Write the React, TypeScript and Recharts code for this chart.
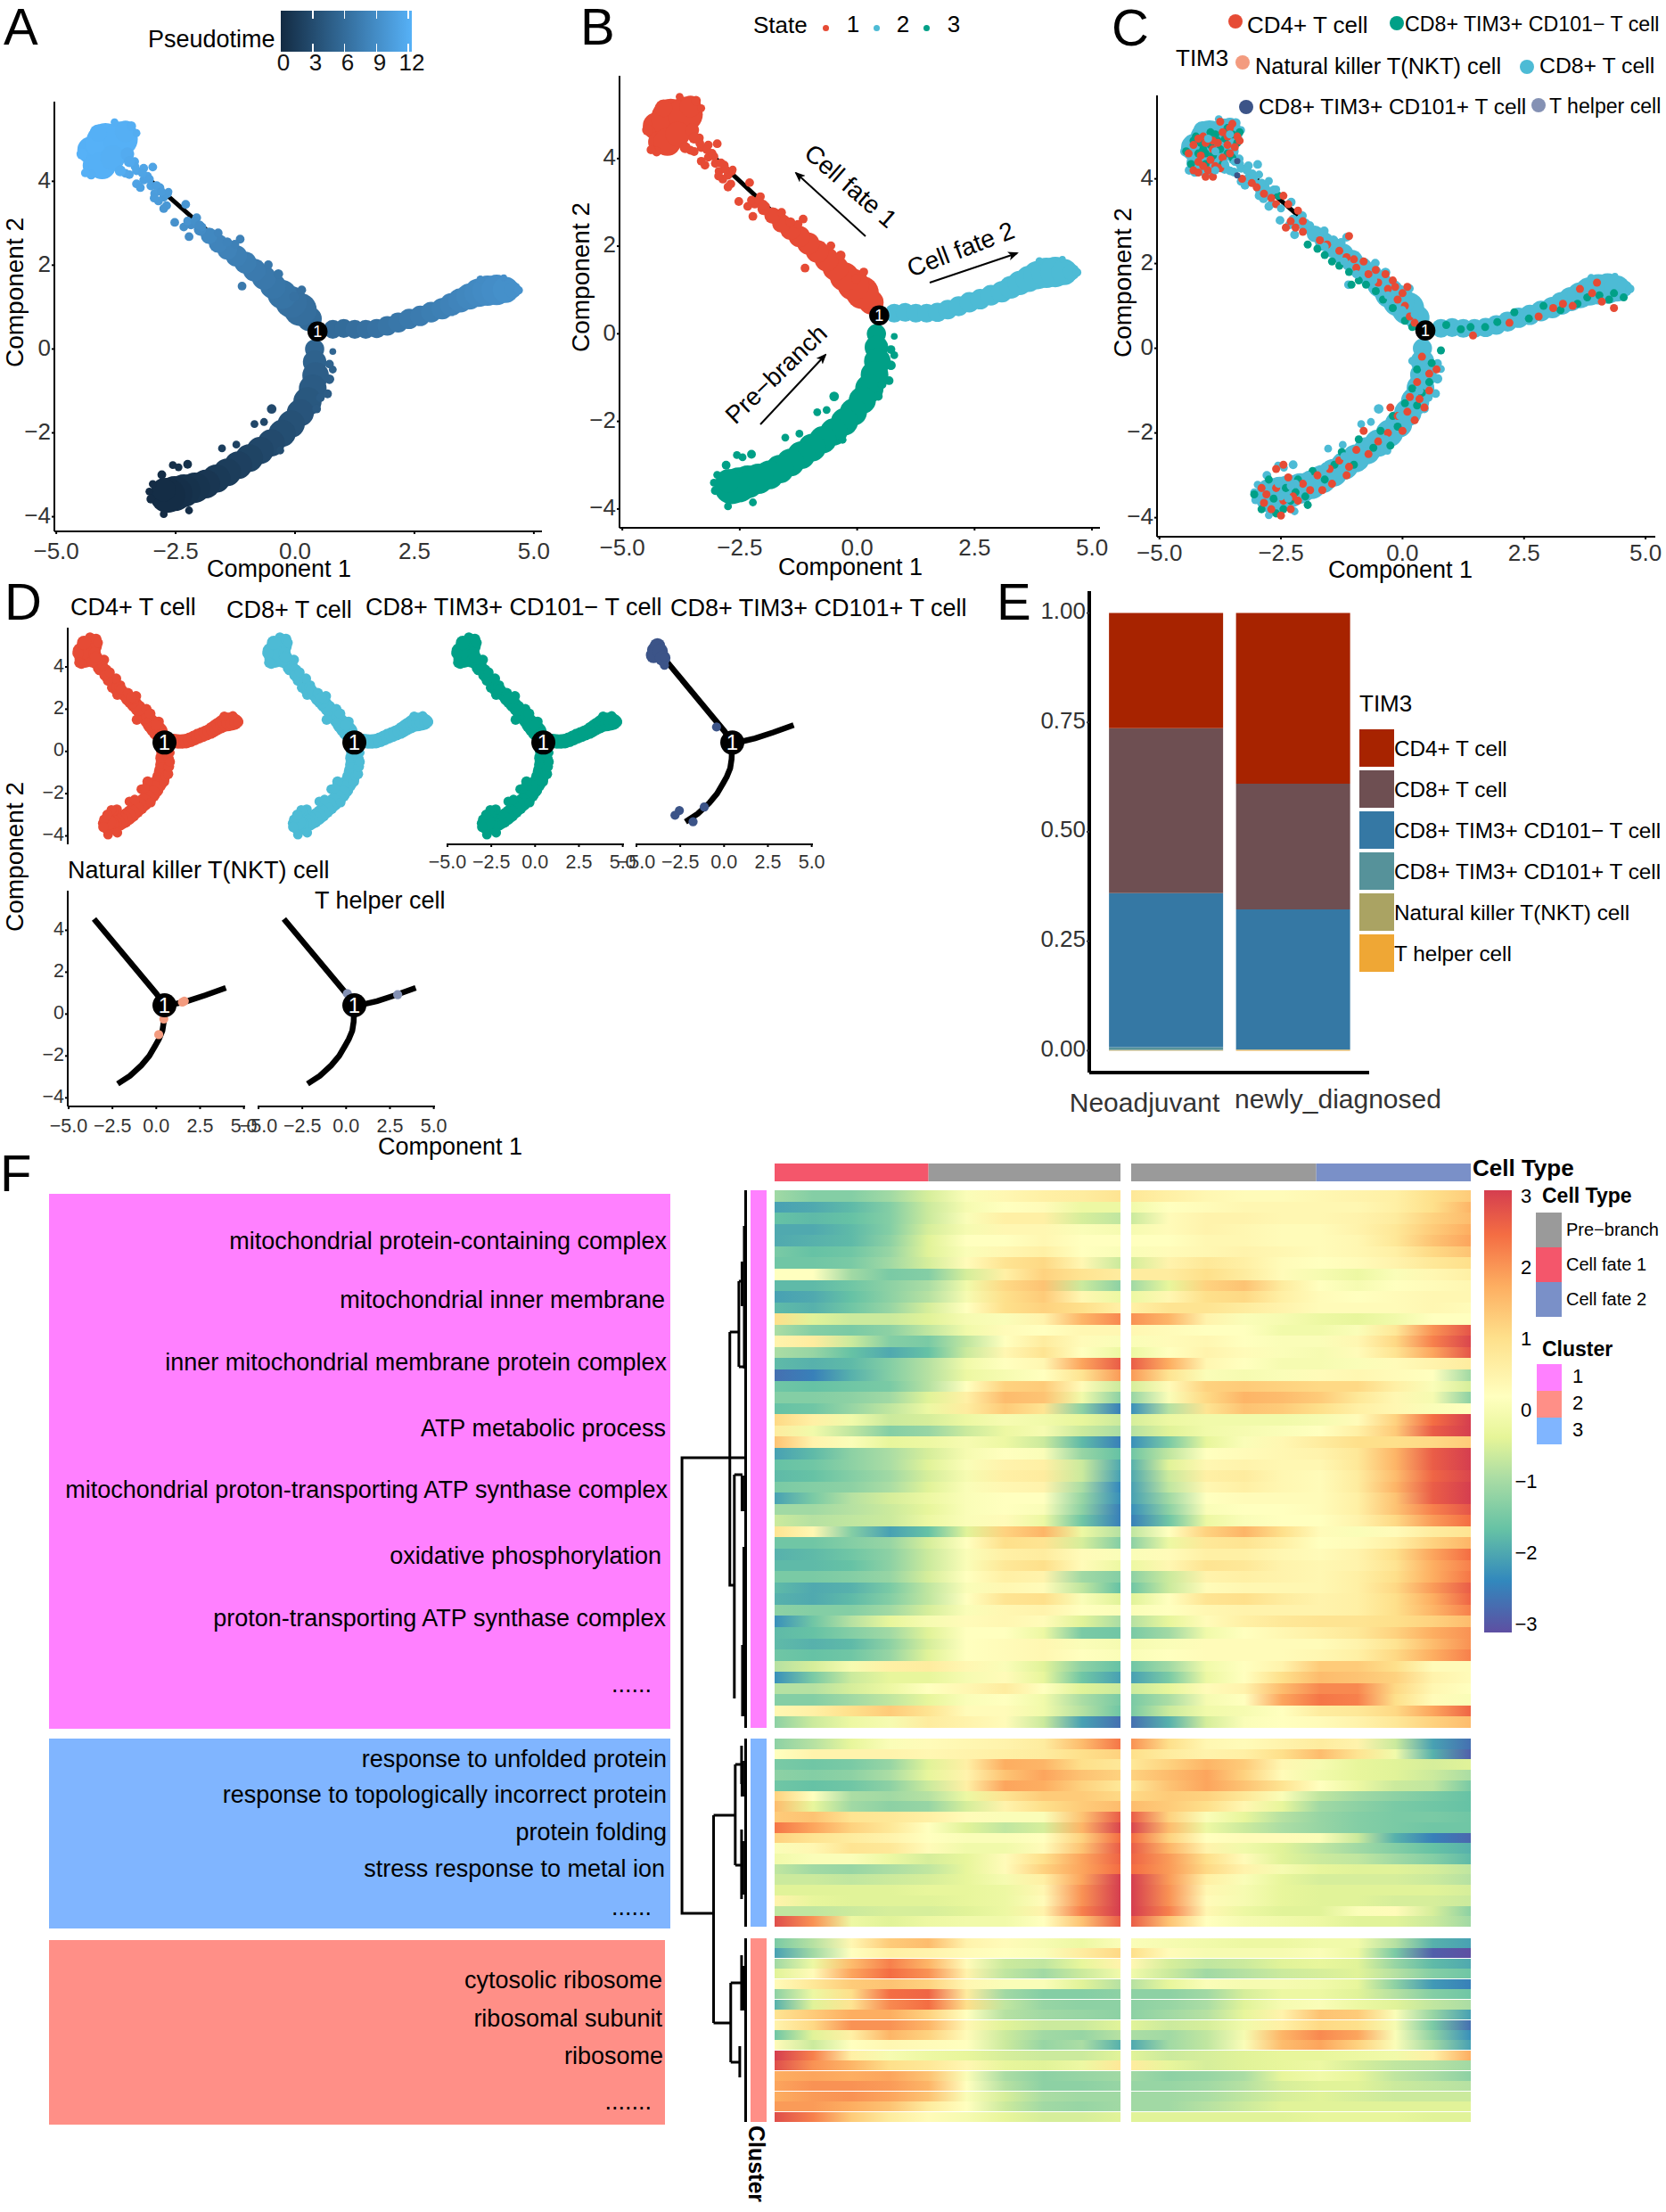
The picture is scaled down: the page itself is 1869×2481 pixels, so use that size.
import React from "react";
import {
  Bar,
  BarChart,
  Cell,
  Scatter,
  ScatterChart,
  XAxis,
  YAxis,
  ZAxis,
} from "recharts";

const FONT = "'Liberation Sans', Arial, sans-serif";

// trajectory cells: [component 1, component 2, local density, pseudotime]
const preBranchCells = [
  [0.41, 0, 24, 5.2], [0.41, -0.31, 36, 4.9], [0.43, -0.63, 46, 4.6], [0.37, -0.94, 50, 4.3],
  [0.26, -1.25, 52, 4], [0.11, -1.52, 48, 3.7], [-0.08, -1.79, 48, 3.4], [-0.27, -2.01, 48, 3.1],
  [-0.5, -2.24, 48, 2.8], [-0.73, -2.42, 48, 2.5], [-0.96, -2.6, 50, 2.2], [-1.19, -2.77, 50, 1.9],
  [-1.42, -2.94, 50, 1.6], [-1.65, -3.09, 52, 1.3], [-1.87, -3.22, 54, 1], [-2.1, -3.31, 60, 0.8],
  [-2.33, -3.38, 70, 0.6], [-2.52, -3.45, 80, 0.4], [-2.67, -3.49, 80, 0.2], [-2.75, -3.36, 36, 0.2],
  [-0.49, -1.43, 6, 2.7], [-0.85, -1.79, 4, 2.4], [-0.65, -1.74, 4, 2.5], [-2.25, -2.75, 5, 0.6],
  [-2.44, -2.82, 4, 0.5], [-2.56, -2.77, 4, 0.4], [0.79, -0.06, 3, 5.2], [0.72, -0.36, 5, 5],
  [-1.53, -2.37, 4, 1.7], [-1.23, -2.28, 4, 2], [0.45, -1.43, 5, 4.1], [-0.31, -2.42, 4, 3],
  [-3.05, -3.4, 4, 0.1], [-2.98, -3.22, 4, 0.1], [-2.79, -3, 5, 0.2], [-2.75, -3.94, 4, 0.1],
  [-2.22, -3.85, 4, 0.3], [-3.02, -3.58, 5, 0.1], [0.53, -1.16, 5, 4.3], [0.68, -1.07, 5, 4.4],
  [0.72, -0.72, 6, 4.6], [0.79, -0.49, 4, 4.8],
];
const fateOneCells = [
  [0.3, 0.72, 40, 5.7], [0.11, 0.94, 70, 6], [-0.08, 1.12, 65, 6.2], [-0.27, 1.3, 55, 6.5],
  [-0.46, 1.5, 43, 6.7], [-0.65, 1.7, 38, 6.9], [-0.85, 1.88, 34, 7.1], [-1.04, 2.06, 32, 7.3],
  [-1.23, 2.22, 30, 7.5], [-1.42, 2.37, 26, 7.8], [-1.61, 2.52, 23, 8], [-1.8, 2.7, 18, 8.3],
  [-1.99, 2.85, 10, 8.6], [-2.18, 2.97, 6, 8.9],
  [-2.06, 3.13, 5, 9.2], [-2.33, 2.91, 5, 9], [-2.52, 3.02, 5, 9.1], [-2.22, 2.68, 5, 8.7],
  [-1.95, 2.91, 5, 8.8], [-2.25, 3.05, 5, 9.3], [-2.75, 3.62, 5, 9.9], [-2.69, 3.42, 5, 9.8],
  [-2.86, 3.53, 5, 10], [-2.67, 3.71, 5, 10], [-2.83, 3.85, 5, 10.2], [-3.02, 3.89, 5, 10.4],
  [-2.94, 3.71, 5, 10.2], [-3.17, 4.03, 5, 10.6], [-3.32, 3.94, 5, 10.7], [-3.09, 4.12, 5, 10.7],
  [-2.98, 4.34, 5, 10.8], [-3.17, 4.31, 5, 10.9], [-3.32, 4.25, 5, 11], [-3.47, 4.16, 5, 11],
  [-3.36, 4.47, 5, 11.1], [-3.55, 4.19, 5, 11.1], [-3.24, 3.85, 5, 10.6], [-2.29, 3.45, 5, 9.5],
  [-2.75, 3.35, 5, 9.6], [-3.2, 4.2, 5, 10.8], [-3.05, 4.05, 5, 10.6], [-2.9, 3.9, 5, 10.3],
  [-2.8, 3.75, 5, 10.1], [-3.35, 4.35, 5, 11], [-2.95, 3.6, 5, 10.1], [-2.1, 3.05, 5, 9],
  [-2, 2.95, 6, 8.8], [-2.65, 3.75, 4, 10],
  [-1.15, 2.62, 5, 7.7], [-1.26, 2.5, 5, 7.7], [-1.11, 1.5, 5, 7],
  [-0.56, 2.01, 5, 6.9], [-0.35, 1.79, 6, 6.7], [0.14, 1.41, 5, 6.2], [-0.02, 1.25, 6, 6.3],
  [-1.61, 2.77, 5, 8.1], [-1.42, 2.55, 6, 7.9],
  [-4.27, 4.74, 50, 11.9], [-3.97, 4.92, 100, 12], [-3.66, 5.01, 80, 11.9], [-3.55, 5.19, 30, 11.8],
  [-4.23, 4.38, 28, 11.9], [-4.04, 4.38, 50, 11.9], [-3.82, 4.56, 40, 11.8], [-3.51, 4.65, 12, 11.5],
  [-4.46, 4.65, 8, 12], [-3.78, 5.41, 4, 11.8], [-3.43, 5.32, 6, 11.7], [-4.12, 5.15, 20, 11.9],
  [-3.32, 5.15, 4, 11.6], [-4.27, 4.16, 6, 11.8], [-4.39, 4.2, 5, 11.9], [-3.66, 4.25, 8, 11.6],
  [-3.47, 4.47, 8, 11.3],
];
const fateTwoCells = [
  [0.79, 0.47, 23, 5.7], [1.02, 0.49, 23, 5.8], [1.25, 0.47, 23, 6], [1.48, 0.47, 23, 6.2],
  [1.71, 0.49, 24, 6.4], [1.93, 0.55, 25, 6.6], [2.16, 0.63, 26, 6.8], [2.39, 0.72, 27, 7],
  [2.62, 0.79, 27, 7.2], [2.85, 0.88, 28, 7.4], [3.08, 0.96, 30, 7.6], [3.27, 1.06, 34, 7.8],
  [3.46, 1.16, 38, 8], [3.65, 1.25, 44, 8.2], [3.84, 1.34, 52, 8.4], [4.03, 1.39, 60, 8.6],
  [4.22, 1.41, 60, 8.8], [4.41, 1.41, 44, 9], [4.56, 1.41, 18, 9], [4.68, 1.4, 5, 9.1],
  [4.37, 1.7, 3, 8.9], [3.88, 1.66, 4, 8.6],
];

// single cells of each annotation drawn over the trajectory: [component 1, component 2]
const cd4Cells = [
  [-4.3, 4.8], [-4.1, 5], [-3.9, 4.7], [-3.7, 5.1], [-3.6, 4.8], [-3.4, 5], [-3.5, 5.3], [-4.2, 4.4], [-4, 4.2], [-3.85, 4.3],
  [-4.3, 4.2], [-3.7, 4.5], [-3.95, 4.45], [-4.15, 4.55], [-3.55, 4.6], [-4.05, 4.85], [-3.75, 5.35], [-3.45, 4.75], [-3.9, 4.05], [-4.2, 4.15],
  [-4.2, 4.95], [-4.1, 4.3], [-3.8, 4.85], [-3.6, 5.0], [-3.35, 4.9], [-4.4, 4.6], [-4.05, 4.05], [-3.75, 4.25], [-3.9, 4.9], [-3.55, 5.2],
  [-3.3, 4], [-3.1, 3.9], [-3, 3.8], [-2.85, 3.65], [-2.7, 3.55], [-2.6, 3.4], [-2.45, 3.6], [-2.35, 3.4], [-2.15, 3.25], [-2.05, 3],
  [-2.3, 3], [-2.2, 2.85], [-2.4, 2.85], [-2.05, 2.75], [-1.7, 2.55], [-1.55, 2.45], [-1.3, 2.3], [-1.1, 2.65], [-1.15, 2.15], [-1, 2.1],
  [-0.95, 1.9], [-0.8, 2.05], [-0.7, 1.75], [-0.55, 1.85], [-0.5, 1.55], [-0.35, 1.75], [-0.3, 1.4], [-0.2, 1.6], [-0.1, 1.15], [-0.15, 1.45],
  [0, 1.3], [0.1, 1.45], [0.05, 1], [0.15, 0.75], [0.25, 0.6], [1.45, 0.3], [2.2, 0.6], [2.8, 0.75], [3.1, 0.95], [3.3, 1.05],
  [3.5, 1], [3.9, 1.3], [4.1, 1.1], [4.35, 0.95], [3.65, 1.4], [4, 1.55], [0.4, -0.2], [0.55, -0.6], [0.7, -0.5], [0.3, -0.8],
  [0.55, -1], [0.35, -1.2], [0.45, -1.4], [0.15, -1.15], [0.1, -1.5], [-0.1, -1.6], [0.25, -1.7], [-0.25, -1.4], [0, -1.95], [-0.3, -2],
  [-0.5, -2.2], [-0.8, -1.95], [-0.7, -2.5], [-0.95, -2.4], [-1.1, -2.8], [-1.3, -2.65], [-1.5, -2.85], [-1.45, -3.2], [-1.75, -3], [-1.9, -3.35],
  [-2.05, -3.2], [-2.25, -3.5], [-2.35, -3.05], [-2.45, -2.75], [-2.6, -2.85], [-2.6, -3.3], [-2.8, -3.45], [-2.85, -3.65], [-2.7, -3.8], [-2.5, -3.95],
  [-2.3, -3.8], [-2.15, -3.6], [-2.9, -3.3], [-2.45, -3.6], [-1.65, -3.35], [-1.15, -3],
];
const cd101NegCells = [
  [-4.45, 4.65], [-4.25, 5], [-4.1, 4.7], [-3.95, 5.1], [-3.8, 4.9], [-3.6, 5.2], [-3.35, 5.1], [-4.05, 4.35], [-3.7, 4.35], [-4.2, 4.6],
  [-3.9, 4.55], [-3.5, 4.5], [-3.4, 4.85], [-4.35, 4.35], [-3.75, 4.7], [-4.15, 4.85], [-4.3, 4.9], [-3.85, 5.05], [-3.65, 4.95], [-3.5, 5.05],
  [-3.95, 4.8], [-4.05, 4.6], [-3.6, 4.6], [-2.55, 3.6], [-1.95, 2.45], [-1.75, 2.35], [-1.6, 2.2], [-1.45, 2.05],
  [-1.3, 1.95], [-1.1, 1.8], [-0.9, 1.6], [-0.75, 1.5], [-0.55, 1.35], [-0.4, 1.15], [-0.2, 0.95], [0.05, 0.65], [0.2, 0.5], [-1.05, 1.5],
  [0.9, 0.55], [1.2, 0.45], [1.4, 0.5], [1.7, 0.5], [1.95, 0.62], [2.3, 0.85], [2.6, 0.7], [2.9, 1], [3.25, 0.9], [3.6, 1.05],
  [3.8, 1.2], [4.05, 1.25], [4.35, 1.3], [4.55, 1.2], [4.25, 1.15], [0.79, -0.05], [0.6, -0.35], [0.3, -0.5], [0.55, -0.8], [0.2, -0.95],
  [0.4, -1.05], [0.05, -1.3], [0.3, -1.35], [-0.1, -1.85], [-0.2, -1.6], [-0.45, -1.95], [-0.25, -2.3], [-0.6, -2.35], [-0.9, -2.15], [-1, -2.75],
  [-1.25, -2.45], [-1.4, -2.75], [-1.6, -3.1], [-1.85, -2.9], [-2, -3.5], [-2.15, -3.1], [-2.4, -3.3], [-2.45, -3.8], [-2.65, -3.55], [-2.75, -3.1],
  [-3.05, -3.45], [-2.9, -3.8], [-2.6, -3.9], [-2.2, -3.4], [-1.95, -3.7], [-2.3, -3.6],
];
const cd8Cells = [
  [-3.85, 4.65], [-3.65, 4.35], [-4, 4.95], [-3.45, 4.4], [-3.55, 5.05], [-3.85, 4.2], [-2.95, 4.1], [-2.75, 3.95], [-2.6, 3.75], [-2.5, 3.3],
  [-1.9, 2.9], [-1.6, 2.4], [-1.2, 2.05], [-0.95, 1.75], [-0.6, 1.6], [-0.3, 1.25], [0, 0.9], [0.25, 0.8], [0.2, -0.3], [0.45, -0.45],
  [0.35, -1], [-0.05, -1.6], [-0.35, -2.15], [-0.75, -2.25], [-1.2, -2.55], [-1.6, -2.8], [-1.95, -3], [-2.2, -3.2], [-2.55, -3.2], [-2.5, -3.5],
  [-2.3, -3.25], [-2.35, -3.55],
];
const cd101PosCells = [
  [-3.95, 4.8], [-3.8, 5], [-4.02, 4.55], [-3.65, 4.75], [-3.5, 4.42], [-3.4, 4.42], [-3.4, 4.08], [-0.43, 1.16], [-1.13, -2.63], [-2.55, -2.8],
  [-2.8, -3.02], [-1.77, -3.33],
];
const nktCells = [[1.49, 0.57], [1.6, 0.62], [0.43, -0.23], [0.14, -0.98]];
const helperCells = [[2.94, 0.93], [0.07, 0.98]];

// principal graph, one polyline per branch, and the branch node
const graphFateOne = [[0.46, 0.45], [0, 0.98], [-3.55, 4.54]];
const graphFateTwo = [[0.46, 0.45], [1, 0.47], [1.77, 0.62], [2.8, 0.9], [3.97, 1.25]];
const graphPreBranch = [
  [0.46, 0.45], [0.43, -0.36], [0.35, -0.8], [0.15, -1.2], [-0.05, -1.5], [-0.4, -2], [-0.85, -2.45], [-1.5, -2.95], [-2.2, -3.33],
];
const branchNode = [{ x: 0.47, y: 0.42, z: 1 }];

const xTicks = [-5, -2.5, 0, 2.5, 5];
const yTicks = [-4, -2, 0, 2, 4];
const pseudotimeTicks = [0, 3, 6, 9, 12];

// stacked proportions, panel E
const samples = ["Neoadjuvant", "newly_diagnosed"];
const tHelper = [0.0005, 0.002];
const nkt = [0.0015, 0.0005];
const cd101Pos = [0.006, 0.0005];
const cd101Neg = [0.352, 0.32];
const cd8 = [0.377, 0.287];
const cd4 = [0.263, 0.39];
const proportionTicks = [0, 0.25, 0.5, 0.75, 1];

// smoothed expression, each row: 10 stops along cell fate 1 side, 10 along cell fate 2 side
const cluster1Rows = [
  [-1,-1.3,-1.3,-1,-.5,.1,.4,.6,.7,.9,.8,.6,.4,.3,.3,.4,.5,.6,1,1.3],
  [-2,-1.9,-1.7,-1.3,-.6,0,.2,.3,-.2,-.2,-.1,.2,.3,.4,.4,.4,.4,.6,1,1.6],
  [-1.6,-1.7,-1.6,-1.3,-.6,.1,.6,.6,-.5,-.7,-.6,.3,.5,.5,.4,.4,.5,.7,1.2,1.5],
  [-1.9,-1.9,-1.7,-1.3,-.5,0,.4,.4,.1,0,0,.3,.5,.4,.3,.3,.5,.8,1.3,1.7],
  [-1.9,-1.8,-1.7,-1.2,-.4,.2,.2,.4,.2,.2,.2,.2,.4,.4,.3,.3,.4,.8,1.4,1.8],
  [-1.4,-1.6,-1.5,-1.1,-.4,.1,.4,.6,.2,.1,.1,.3,.4,.5,.4,.3,.4,.6,1.1,1.4],
  [-1.5,-1.5,-1.4,-1,-.5,.3,.9,1.1,.4,-.6,-.5,.5,.8,.6,.3,.2,.3,.5,.8,1],
  [.2,.2,-1,-1.4,-1.3,-.5,.6,1.2,.9,.7,.7,.7,1,.7,.3,0,-.2,.1,.4,.6],
  [-1.7,-1.7,-1.5,-1.2,-.9,-.1,1.1,1.4,-.6,-1.2,-1,-.3,1.2,1.4,.7,.2,0,.2,.3,.4],
  [-2,-1.9,-1.6,-1.2,-.8,0,1,1.3,.4,-.2,-.2,.4,1,1.1,.6,.3,.2,.3,.4,.4],
  [-1.7,-1.8,-1.5,-1.1,-.5,.2,1,1.2,1,.6,.6,.9,.9,.7,.5,.3,.3,.3,.4,.3],
  [1,-.4,-.6,-.6,-.4,0,.1,.5,1.6,2.1,2,1.6,.5,.1,0,-.2,-.3,-.1,.2,.2],
  [-.9,-1.3,-1.4,-1.2,-.7,-.1,.3,.2,.4,.4,.4,.3,.2,.2,-.1,-.1,.1,.8,2,2.7],
  [.5,.7,-.6,-1.3,-1.4,-.7,.2,.7,.3,.1,.1,.3,.4,.2,.1,.1,.4,1.1,2.2,2.9],
  [-.9,-1.1,-1.6,-1.9,-1.6,-.6,.4,.9,.2,-.2,-.2,.2,.5,.3,.1,0,.3,.9,1.8,2.7],
  [-1.7,-1.8,-1.7,-1.3,-.8,-.1,.2,.4,1.8,2.6,2.6,1.7,.4,.2,0,0,.1,.3,.5,.7],
  [-2.6,-2.4,-1.8,-1.3,-.8,-.2,0,.2,.9,1.9,1.9,.9,.1,0,.1,.3,.4,.3,.2,-1],
  [-1.5,-1.6,-1.5,-1.4,-.8,.2,1.2,1.3,.3,-.6,-.5,.3,1.2,1.3,1.2,1.1,1.1,.6,.1,-.5],
  [-1.3,-1.3,-1.2,-1,-.4,.6,1.5,1.4,-.1,-1.2,-1.1,.1,1.1,1.6,1.5,1.3,.8,.4,0,-1.2],
  [-1.6,-1.5,-1.1,-.7,-.2,.7,1.3,.9,-1.2,-2.4,-2.2,-.8,.9,1.4,1.3,1,.6,.4,.1,.2],
  [1.1,.6,-.1,-.6,-.5,-.2,0,-.1,-.3,-.6,-.5,-.2,-.1,-.1,-.1,0,.3,1.2,2.4,3],
  [.7,-.1,-.7,-1.3,-1.1,-.6,-.2,0,-.6,-.9,-.8,-.4,-.1,0,.1,.2,.6,1.3,2.6,3],
  [1.4,.5,.1,-.3,-.2,0,-.2,-.6,-1.7,-2.4,-2.2,-1.4,-.3,.1,.4,.7,1,1,1.1,1.3],
  [-2,-1.7,-1.2,-.9,-.5,0,.2,.1,-1.1,-1.6,-1.5,-.7,.2,.3,.4,.5,.8,1.6,2.6,3],
  [-1.6,-1.5,-1.2,-.9,-.4,.1,.5,.6,-.6,-1.9,-1.8,-.4,.4,.5,.4,.4,.8,1.6,2.6,3],
  [-1.7,-1.6,-1.3,-1,-.5,0,.6,.7,-.6,-2,-1.9,-.6,.6,.7,.4,.3,.7,1.5,2.5,2.9],
  [-1.4,-1.3,-1.2,-.9,-.4,.1,.4,.5,-.9,-2.3,-2,-.7,.4,.6,.4,.3,.7,1.6,2.6,3],
  [-2,-1.4,-.8,-.5,-.2,.1,.2,.2,-1.1,-2.2,-2,-1,.2,.3,.3,.3,.6,1.4,2.6,3],
  [-1,-1,-.8,-.6,-.3,.1,.2,.1,-1.2,-2.4,-2.2,-1.2,.1,.2,.2,.3,.6,1.4,2.2,2.7],
  [-.6,-.8,-.7,-.6,-.2,.1,.3,-.2,-1.5,-2.4,-2.4,-1.5,-.2,.1,.2,.2,.5,1.1,1.9,2.4],
  [.9,.4,-1.3,-2,-1.6,-.4,1.2,1.6,-.2,-.8,-.7,.2,1.2,1.6,1,.3,.1,.3,.7,.9],
  [-1.5,-1.5,-1.3,-1.1,-.5,.2,1,.9,-.5,-1.3,-1.2,-.2,.8,.9,.6,.2,.3,.6,1.2,1.6],
  [-1.8,-1.7,-1.5,-1.2,-.6,.1,.6,.7,.3,.1,.1,.3,.6,.6,.4,.3,.5,1,1.8,2.4],
  [-1.7,-1.7,-1.6,-1.2,-.6,.1,.8,1,.3,-.2,-.2,.4,.9,.8,.5,.4,.5,.9,1.7,2.2],
  [-1.4,-1.4,-1.3,-1.1,-.5,.2,.6,.5,-1,-1.3,-1.2,-.6,.5,.6,.5,.4,.6,1,1.7,2.3],
  [-1.7,-1.9,-1.8,-1.4,-.7,.1,.4,.3,-.7,-1.6,-1.5,-.6,.3,.4,.4,.4,.6,1.1,1.9,2.6],
  [-1.8,-1.9,-1.7,-1.3,-.7,.2,.9,1,.1,-.4,-.4,.2,.9,1,.7,.5,.6,1,1.7,2.5],
  [-1.2,-1.3,-1.3,-1,-.5,.1,.4,.5,.2,.1,.1,.2,.4,.5,.5,.5,.6,1,1.6,2.2],
  [-2.2,-1.5,-.8,-.3,0,.3,.4,.3,-.4,-.9,-.8,-.3,.3,.6,.8,.9,.9,1,1.2,1.5],
  [-1.7,-1.6,-1.3,-1,-.4,.2,.2,-.2,-1.4,-1.5,-1.4,-1,-.1,.2,.4,.6,.8,1.2,1.7,2],
  [-1.7,-1.8,-1.7,-1.2,-.5,.2,.3,.4,.1,0,0,.1,.3,.3,.3,.3,.5,.9,1.5,2],
  [-1.5,-1.6,-1.5,-1.1,-.4,.2,.3,.4,.2,.1,.1,.2,.3,.3,.3,.4,.6,1.1,1.7,2.2],
  [-.8,-.5,0,.6,.7,.4,.1,-.4,-1.2,-1.6,-1.5,-1,-.1,.2,.5,1.3,1.3,1,.3,.3],
  [-2.2,-1.4,-.6,-.3,-.3,0,.3,-.3,-1.5,-2,-2,-1.4,-.2,.2,1,1.5,1.4,1.2,.5,.3],
  [-.8,-.8,-.5,-.2,.2,.4,.7,.2,-.4,-.6,-.6,-.3,.3,.5,1.5,2.1,2.1,1.1,.4,.2],
  [-1.3,-1.3,-1,-.7,-.3,.1,.2,-.1,-.9,-1.4,-1.4,-.9,0,.2,1.8,2.3,2.2,1,.3,.1],
  [.4,.6,1,1.3,.9,.3,.3,-.1,-.8,-1.5,-1.4,-.6,-.1,0,.2,.7,.8,1.1,1.8,2.5],
  [-1.2,-.6,-.2,0,.7,.5,.3,-.6,-2,-2.6,-2.6,-1.8,-.5,.1,.2,.3,.5,.8,1.2,1.5],
];
const cluster3Rows = [
  [-1.2,-.8,-.3,.1,.3,.4,.5,.7,1.5,2.3,2,1,.4,.3,.5,.7,.5,-.6,-2,-2.6],
  [.2,.5,.5,.5,.4,.5,.6,.7,1,1.2,1,.7,.5,.6,1,1.5,.9,-.1,-1.8,-2.8],
  [-1.4,-1.5,-1.4,-1.1,-.4,.6,1.7,1.6,1,.8,.8,1.2,1.6,1.3,.4,0,-.3,-.4,-.5,-.4],
  [-1.2,-1.3,-1.2,-.9,-.3,.5,1.4,1.8,1.4,1.2,1.2,1.5,1.8,1.2,.3,-.1,-.3,-.4,-.6,-.9],
  [-1.5,-1.6,-1.5,-1.2,-.6,.6,1.8,1.7,1.2,.8,.8,1.4,1.8,1.4,.9,.2,-.2,-.6,-.7,-1.4],
  [1.2,.2,-.9,-1,-.8,-.2,.9,1.3,1.3,1.1,1.1,1.3,1.2,.8,.1,-.7,-1,-1.2,-1.4,-1.6],
  [1.5,-.3,-1,-1.2,-1.1,-.5,.5,1,1.3,1.5,1.5,1.3,1,.4,-.3,-1,-1.2,-1.4,-1.5,-1.6],
  [1.3,1.4,.9,.8,.6,.3,.1,.1,1.4,2.6,2.6,1.2,.1,-.3,-.8,-1.1,-1.3,-1.4,-1.4,-1.5],
  [2.3,1.8,1.2,.8,.2,-.4,-.7,-.5,1.6,2.9,2.9,1.5,-.2,-.6,-.9,-1.1,-1.3,-1.4,-1.5,-1.5],
  [1.2,.9,.7,.5,.2,.1,.1,.2,1.2,2.4,2.4,1.2,.2,.3,.3,.1,-.6,-1.8,-2.4,-2.7],
  [.1,.4,.9,.8,.3,-.1,-.1,.3,1.4,2.6,2.6,1.6,.5,-.1,-.4,-.7,-1,-1.3,-1.6,-1.8],
  [-.1,.1,.1,-.2,-.5,-.3,.3,1,1.8,2.5,2.5,1.9,1,.3,-.4,-.6,-.7,-1,-1.3,-1.7],
  [-.7,-1,-1.1,-.9,-.7,-.3,.3,1.2,1.8,2.4,2.4,1.9,1.1,.5,0,-.3,-.4,-.4,-.5,-.7],
  [-.6,-.6,-.7,-.6,-.5,-.3,0,.6,1.8,3,3,1.9,.6,.1,-.3,-.5,-.5,-.5,-.6,-.8],
  [-.4,-.4,-.4,-.4,-.3,-.3,-.2,.4,2,3,3,2,.4,0,-.3,-.4,-.4,-.4,-.4,-.5],
  [.5,-.3,-.4,-.4,-.4,-.3,-.2,.3,2,3,3,2,.3,0,-.3,-.4,-.4,-.5,-.5,-.6],
  [-.7,-.7,-.6,-.5,-.5,-.4,-.2,.5,2.2,3,3,2.2,.4,-.2,-.4,-.4,.1,.3,-.5,-1.2],
  [2.8,2,-.2,-.4,-.2,-.1,-.1,.2,1.4,2.6,2.6,1.4,.2,0,-.1,-.2,-.4,-.4,-.6,-1],
];
const cluster2Rows = [
  [-1.4,-.8,.4,1.3,1.5,.5,.3,0,-.2,.1,.1,0,-.1,-.2,-.2,-.1,-.1,-.8,-1.8,-2],
  [-2,-1,.2,.6,.5,.3,.2,.1,.7,1.1,1,.3,0,0,0,.1,-.2,-1.4,-2.8,-3],
  [-1,-.2,1.5,2.2,1.6,.3,-.6,-.7,-.3,.5,.4,-.5,-.7,-.6,-.4,-.3,-.4,-1.1,-1.7,-1.9],
  [-.4,.3,1.8,2.4,2,.5,-.7,-1,-.6,-.1,-.1,-.6,-1,-.8,-.6,-.5,-.4,-.8,-1.3,-1.5],
  [.3,.8,1.3,1.4,1.2,.4,.1,.1,-.4,-.8,-.8,-.3,.1,0,0,-.1,-.3,-1.2,-2.1,-2.4],
  [-1.2,-.2,1,2.4,2.5,.7,-1,-1.3,-1.3,-1.2,-1.2,-1.2,-1,-.5,-.2,-.2,-.4,-.8,-1.3,-1.5],
  [-1.8,-.4,.9,2.1,2.4,1,-.7,-1.1,-1.2,-1.2,-1.2,-1.1,-.9,-.4,0,.1,-.2,-.4,-.7,-.9],
  [.9,1.3,1.7,1.7,1.2,.2,-.8,-1,-1.1,-1.2,-1.2,-1,-.8,-.3,.5,1.4,1.3,.1,-1.1,-2],
  [.5,1.1,2,2,1.6,.4,-.4,-.6,-.6,-.4,-.4,-.6,-.5,-.1,.6,1.1,1,0,-1.4,-2.6],
  [-1.5,-.4,.6,1.6,1.2,.3,-.6,-1,-1.1,-.8,-.9,-1,-.7,0,1.6,2.1,1.8,.1,-1.2,-2.2],
  [.3,-.6,.2,.4,.3,.2,-.6,-1.1,-.9,-1.8,-1.9,-1,-.7,.1,1.5,1.8,1.2,.1,-1,-2],
  [3,2.2,.6,0,-.2,-.3,-.5,-.6,-.6,-.4,-.4,-.6,-.5,-.4,-.3,-.3,-.2,-.1,.6,1.7],
  [2.8,2,1.6,1,.8,.4,-.3,-.4,-.2,.8,.7,-.3,-.5,-.4,-.3,-.2,-.5,-.7,-.8,-1],
  [1.7,1.8,1.7,1.8,1.4,.1,-.9,-1.2,-1.1,-1,-1,-1.2,-1.1,-.9,-.3,-.1,-.3,-.7,-.9,-1.2],
  [1.8,2,2,1.9,1.6,.2,-.8,-1.2,-1.2,-1.1,-1.1,-1.1,-1,-.8,-.5,-.4,-.4,-.6,-.7,-.8],
  [1.7,1.9,2,1.8,1.4,.1,-.5,-.9,-1,-1,-1,-1,-.9,-.7,-.5,-.4,-.5,-.6,-.6,-.6],
  [1.9,1.9,1.7,1.4,.7,.2,-.6,-1,-1.1,-1,-1,-1,-.8,-.6,-.4,-.4,-.4,-.4,-.4,-.4],
  [2.8,2.2,1.3,.7,.3,0,-.3,-.5,-.5,-.4,-.4,-.4,-.4,-.4,-.4,-.3,-.3,-.3,-.4,-.4],
];
const legendScale = [3, 2, 1, 0, -1, -2, -3];

// dendrogram polylines: [merge height, row position]
const dendroTrunk = [
  [[0.5, 300], [72, 300], [72, 811], [37, 811]],
  [[19, 159], [19, 443], [14, 443]],
  [[19, 159], [9, 159]],
  [[9, 102], [9, 198]],
  [[9, 102], [5, 102]],
  [[9, 198], [3, 198]],
  [[14, 319], [14, 570]],
  [[14, 319], [5, 319]],
  [[37, 701], [37, 934]],
  [[37, 701], [13, 701]],
  [[13, 644], [13, 757]],
  [[13, 644], [6, 644]],
  [[6, 623], [6, 666]],
  [[13, 757], [6, 757]],
  [[6, 717], [6, 795]],
  [[37, 934], [18, 934]],
  [[18, 889], [18, 978]],
  [[18, 889], [6, 889]],
  [[6, 858], [6, 920]],
  [[18, 978], [8, 978]],
  [[8, 960], [8, 995]],
];
const dendroLeaves = [
  [[1, 0], [1, 603]],
  [[1, 615], [1, 826]],
  [[1, 839], [1, 1045]],
  [[2.5, 40], [2.5, 80]],
  [[5, 80], [5, 130]],
  [[5, 320], [5, 360]],
  [[4.5, 510], [4.5, 590]],
  [[2.5, 130], [2.5, 200]],
  [[3, 400], [3, 560]],
  [[5, 640], [5, 680]],
  [[5, 730], [5, 790]],
  [[3, 870], [3, 920]],
];

const annotationLeft = [{ row: "top", fate: 44.5, pre: 55.5 }];
const annotationRight = [{ row: "top", pre: 54.5, fate: 45.5 }];

const colorStops: [number, string][] = [
  [-3, "#5E4FA2"], [-2.3, "#3288BD"], [-1.6, "#66C2A5"], [-0.9, "#ABDDA4"], [-0.35, "#E6F598"],
  [0.2, "#FFFFBF"], [1, "#FEE08B"], [1.7, "#FDAE61"], [2.4, "#F46D43"], [3, "#D53E4F"],
];

const mixHex = (a: string, b: string, f: number) => {
  const ch = (s: string, i: number) => parseInt(s.slice(i, i + 2), 16);
  const out = [1, 3, 5].map((i) => Math.round(ch(a, i) + (ch(b, i) - ch(a, i)) * f));
  return `rgb(${out.join(",")})`;
};

const heatColor = (v: number) => {
  for (let i = 1; i < colorStops.length; i++) {
    if (v <= colorStops[i][0]) {
      const [v0, c0] = colorStops[i - 1];
      const [v1, c1] = colorStops[i];
      return mixHex(c0, c1, (v - v0) / (v1 - v0));
    }
  }
  return colorStops[colorStops.length - 1][1];
};

const pseudotimeColor = (t: number) => mixHex("#132B43", "#56B1F7", t / 12);

const toCells = (rows: number[][]) => rows.map(([x, y, z, t]) => ({ x, y, z, t }));
const toDots = (rows: number[][], z = 4.2) => rows.map(([x, y]) => ({ x, y, z }));
const toXY = (rows: number[][]) => rows.map(([x, y]) => ({ x, y }));
const formatMinus = (v: number, digits: number) => v.toFixed(digits).replace("-", "\u2212");

const RED = "#E64B35";
const CYAN = "#4DBBD5";
const GREEN = "#00A087";
const NAVY = "#3C5488";
const SALMON = "#F39B7F";
const SLATE = "#8491B4";

const allCells = [...preBranchCells, ...fateTwoCells, ...fateOneCells];

const Txt = ({ x, y, size, anchor = "start", weight, rotate = 0, color = "#000", children }: any) => {
  const tx = anchor === "end" ? "-100%" : anchor === "middle" ? "-50%" : "0";
  return (
    <div
      style={{
        position: "absolute",
        left: x,
        top: y,
        fontSize: size,
        fontFamily: FONT,
        fontWeight: weight,
        color,
        lineHeight: 1,
        whiteSpace: "nowrap",
        transform: `translate(${tx},-50%) rotate(${rotate}deg)`,
      }}
    >
      {children}
    </div>
  );
};

const Box = ({ x, y, w, h, fill }: any) => (
  <div style={{ position: "absolute", left: x, top: y, width: w, height: h, background: fill }} />
);

const AXIS_W = 60;
const AXIS_H = 48;
const PAD_R = 32;

const hiddenAxis = { axisLine: false, tickLine: false, tick: false };

const TrajectoryPanel = ({ x, y, w, h, xDomain, yDomain, layers, zScale, tickSize = 26, xMargin = 10, showX = true, showY = true, graphWidth = 5, nodeR = 11.3, nodeFont = 18 }: any) => {
  const axisStyle = { stroke: "#000", strokeWidth: 2 };
  const tickStyle = { fill: "#333", fontSize: tickSize, fontFamily: FONT };
  const xProps = showX
    ? { axisLine: axisStyle, tickLine: axisStyle, tick: tickStyle, tickSize: 3, tickMargin: xMargin }
    : hiddenAxis;
  const yProps = showY
    ? { axisLine: axisStyle, tickLine: axisStyle, tick: { ...tickStyle, dy: -2 }, tickSize: 3, tickMargin: 1 }
    : hiddenAxis;
  return (
    <div style={{ position: "absolute", left: x - AXIS_W, top: y }}>
      <ScatterChart width={AXIS_W + w + PAD_R} height={h + AXIS_H} margin={{ top: 0, right: PAD_R, bottom: 0, left: 0 }}>
        <XAxis type="number" dataKey="x" domain={xDomain} ticks={xTicks} interval={0} height={AXIS_H} allowDataOverflow tickFormatter={(v) => formatMinus(v, 1)} {...xProps} />
        <YAxis type="number" dataKey="y" domain={yDomain} ticks={yTicks} interval={0} width={AXIS_W} allowDataOverflow tickFormatter={(v) => formatMinus(v, 0)} {...yProps} />
        <ZAxis type="number" dataKey="z" {...zScale} />
        {[graphFateOne, graphFateTwo, graphPreBranch].map((branch, i) => (
          <Scatter
            key={`graph-${i}`}
            data={toXY(branch)}
            line={{ stroke: "#000", strokeWidth: graphWidth }}
            lineType="joint"
            shape={() => null}
            isAnimationActive={false}
          />
        ))}
        {layers.map((layer: any, i: number) => (
          <Scatter key={`layer-${i}`} data={layer.data} fill={layer.color} isAnimationActive={false}>
            {layer.byPseudotime
              ? layer.data.map((d: any, k: number) => <Cell key={k} fill={pseudotimeColor(d.t)} />)
              : null}
          </Scatter>
        ))}
        <Scatter
          data={branchNode}
          isAnimationActive={false}
          shape={(p: any) => (
            <g>
              <circle cx={p.cx} cy={p.cy} r={nodeR} fill="#000" />
              <text x={p.cx} y={p.cy + nodeFont * 0.36} fill="#fff" fontSize={nodeFont} fontFamily={FONT} textAnchor="middle">
                1
              </text>
            </g>
          )}
        />
      </ScatterChart>
    </div>
  );
};

const bigScale = { domain: [0, 200], range: [0, 3040] };
const smallScale = { domain: [0, 200], range: [10, 600], scale: "sqrt" };

const pseudotimeLayers = [{ data: toCells(allCells), byPseudotime: true }];
const stateLayers = [
  { data: toCells(preBranchCells), color: GREEN },
  { data: toCells(fateTwoCells), color: CYAN },
  { data: toCells(fateOneCells), color: RED },
];
const annotationLayers = [
  { data: toCells(allCells), color: CYAN },
  { data: toDots(cd101NegCells), color: GREEN },
  { data: toDots(cd4Cells), color: RED },
  { data: toDots(cd8Cells), color: CYAN },
  { data: toDots(cd101PosCells.slice(5, 7), 2.5), color: NAVY },
];
const facetLayer = (color: string) => [{ data: toCells(allCells), color }];

const HeatBlock = ({ id, rows, from, to, x, y, w, h }: any) => {
  const data = rows.map((_: number[], i: number) => ({ row: i, span: 1 }));
  return (
    <div style={{ position: "absolute", left: x, top: y }}>
      <BarChart width={w} height={h} data={data} layout="vertical" barCategoryGap={0} margin={{ top: 0, right: 0, bottom: 0, left: 0 }}>
        <defs>
          {rows.map((row: number[], i: number) => {
            const part = row.slice(from, to);
            return (
              <linearGradient key={i} id={`${id}-${i}`} x1="0" y1="0" x2="1" y2="0">
                {part.map((v, k) => (
                  <stop key={k} offset={k / (part.length - 1)} stopColor={heatColor(v)} />
                ))}
              </linearGradient>
            );
          })}
        </defs>
        <XAxis type="number" domain={[0, 1]} hide />
        <YAxis type="category" dataKey="row" hide />
        <Bar dataKey="span" isAnimationActive={false} shapeRendering="crispEdges">
          {rows.map((_: number[], i: number) => (
            <Cell key={i} fill={`url(#${id}-${i})`} />
          ))}
        </Bar>
      </BarChart>
    </div>
  );
};

const AnnotationBar = ({ data, keys, colors, x, w }: any) => (
  <div style={{ position: "absolute", left: x, top: 1305 }}>
    <BarChart width={w} height={20} data={data} layout="vertical" barCategoryGap={0} margin={{ top: 0, right: 0, bottom: 0, left: 0 }}>
      <XAxis type="number" domain={[0, 100]} hide />
      <YAxis type="category" dataKey="row" hide />
      {keys.map((k: string, i: number) => (
        <Bar key={k} dataKey={k} stackId="a" fill={colors[i]} isAnimationActive={false} />
      ))}
    </BarChart>
  </div>
);

const proportionData = samples.map((sample, i) => ({
  sample,
  tHelper: tHelper[i],
  nkt: nkt[i],
  cd101Pos: cd101Pos[i],
  cd101Neg: cd101Neg[i],
  cd8: cd8[i],
  cd4: cd4[i],
}));
const proportionSeries = [
  ["tHelper", "#EFA735"],
  ["nkt", "#AAA363"],
  ["cd101Pos", "#56929A"],
  ["cd101Neg", "#3578A4"],
  ["cd8", "#6E4F52"],
  ["cd4", "#A72300"],
];
const proportionLegend = [
  ["CD4+ T cell", "#A72300"],
  ["CD8+ T cell", "#6E4F52"],
  ["CD8+ TIM3+ CD101\u2212 T cell", "#3578A4"],
  ["CD8+ TIM3+ CD101+ T cell", "#56929A"],
  ["Natural killer T(NKT) cell", "#AAA363"],
  ["T helper cell", "#EFA735"],
];

const StackedProportions = () => (
  <div style={{ position: "absolute", left: 1222 - AXIS_W, top: 663 }}>
    <BarChart width={AXIS_W + 314} height={560} data={proportionData} barCategoryGap="5%" margin={{ top: 0, right: 0, bottom: 0, left: 0 }}>
      <XAxis
        dataKey="sample"
        height={20}
        padding={{ left: 15, right: 14 }}
        axisLine={{ stroke: "#000", strokeWidth: 4 }}
        tickLine={{ stroke: "#333", strokeWidth: 2 }}
        tickSize={5}
        tick={false}
      />
      <YAxis
        type="number"
        domain={[-0.05, 1.05]}
        ticks={proportionTicks}
        interval={0}
        width={AXIS_W}
        allowDataOverflow
        axisLine={{ stroke: "#000", strokeWidth: 4 }}
        tickLine={{ stroke: "#333", strokeWidth: 2 }}
        tickSize={3}
        tickMargin={1}
        tick={{ fill: "#333", fontSize: 26, fontFamily: FONT, dy: -3 }}
        tickFormatter={(v) => v.toFixed(2)}
      />
      {proportionSeries.map(([key, fill]) => (
        <Bar key={key} dataKey={key} stackId="p" fill={fill} isAnimationActive={false} />
      ))}
    </BarChart>
  </div>
);

const Dendrogram = () => {
  const axisProps = { type: "number" as const, hide: true, allowDataOverflow: true };
  return (
    <div style={{ position: "absolute", left: 758, top: 1335 }}>
      <ScatterChart width={80} height={1060} margin={{ top: 0, right: 0, bottom: 0, left: 0 }}>
        <XAxis {...axisProps} dataKey="x" domain={[0, 79]} reversed />
        <YAxis {...axisProps} dataKey="y" domain={[0, 1060]} reversed />
        {dendroTrunk.map((seg, i) => (
          <Scatter key={`t${i}`} data={toXY(seg)} line={{ stroke: "#000", strokeWidth: 3 }} lineType="joint" shape={() => null} isAnimationActive={false} />
        ))}
        {dendroLeaves.map((seg, i) => (
          <Scatter key={`l${i}`} data={toXY(seg)} line={{ stroke: "#000", strokeWidth: 4 }} lineType="joint" shape={() => null} isAnimationActive={false} />
        ))}
      </ScatterChart>
    </div>
  );
};

const heatBlocks = [
  { id: "c1", rows: cluster1Rows, y: 1335, h: 603 },
  { id: "c3", rows: cluster3Rows, y: 1950, h: 211 },
  { id: "c2", rows: cluster2Rows, y: 2174, h: 206 },
];

const termBlocks = [
  [
    ["mitochondrial protein-containing complex", 748, 1392],
    ["mitochondrial inner membrane", 746, 1458],
    ["inner mitochondrial membrane protein complex", 748, 1528],
    ["ATP metabolic process", 747, 1602],
    ["mitochondrial proton-transporting ATP synthase complex", 749, 1671],
    ["oxidative phosphorylation", 742, 1745],
    ["proton-transporting ATP synthase complex", 747, 1815],
    ["......", 731, 1889],
  ],
  [
    ["response to unfolded protein", 748, 1973],
    ["response to topologically incorrect protein", 748, 2013],
    ["protein folding", 748, 2055],
    ["stress response to metal ion", 746, 2096],
    ["......", 731, 2139],
  ],
  [
    ["cytosolic ribosome", 743, 2221],
    ["ribosomal subunit", 743, 2264],
    ["ribosome", 744, 2306],
    [".......", 731, 2357],
  ],
];

const facetTitles = [
  ["CD4+ T cell", 79, 681],
  ["CD8+ T cell", 254, 684],
  ["CD8+ TIM3+ CD101\u2212 T cell", 410, 681],
  ["CD8+ TIM3+ CD101+ T cell", 752, 682],
  ["Natural killer T(NKT) cell", 76, 976],
  ["T helper cell", 353, 1010],
];

const cLegend = [
  ["CD4+ T cell", 1399, 28, 26, RED, 1386, 24],
  ["CD8+ TIM3+ CD101\u2212 T cell", 1576, 28, 23.2, GREEN, 1567, 26],
  ["Natural killer T(NKT) cell", 1408, 75, 25.4, SALMON, 1394, 70],
  ["CD8+ T cell", 1727, 74, 24.8, CYAN, 1713, 75],
  ["CD8+ TIM3+ CD101+ T cell", 1412, 120, 24.4, NAVY, 1398, 120],
  ["T helper cell", 1738, 120, 23.1, SLATE, 1726, 118],
];

const arrows = [
  [971, 265, 893, 194],
  [1043, 317, 1141, 284],
  [853, 476, 926, 398],
];

export default function App() {
  return (
    <div style={{ position: "absolute", left: 0, top: 0, width: 1869, height: 2481, background: "#fff", overflow: "hidden" }}>
      <Txt x={4} y={30} size={58}>A</Txt>
      <Txt x={651} y={30} size={58}>B</Txt>
      <Txt x={1247} y={31} size={58}>C</Txt>
      <Txt x={5} y={675} size={58}>D</Txt>
      <Txt x={1118} y={675} size={58}>E</Txt>
      <Txt x={0} y={1316} size={58}>F</Txt>

      {/* panel A */}
      <Txt x={166} y={44} size={27}>Pseudotime</Txt>
      <div style={{ position: "absolute", left: 315, top: 12, width: 147, height: 46, background: "linear-gradient(90deg,#132B43,#56B1F7)" }} />
      {pseudotimeTicks.slice(1).map((t) => (
        <React.Fragment key={t}>
          <Box x={315 + t * 11.9 - 0.5} y={12} w={1.5} h={9} fill="#fff" />
          <Box x={315 + t * 11.9 - 0.5} y={49} w={1.5} h={9} fill="#fff" />
        </React.Fragment>
      ))}
      {pseudotimeTicks.map((t) => (
        <Txt key={t} x={318 + t * 12} y={70} size={26} anchor="middle" color="#111">{t}</Txt>
      ))}
      <TrajectoryPanel x={61} y={114} w={547} h={482} xDomain={[-5.04, 5.17]} yDomain={[-4.35, 5.9]} layers={pseudotimeLayers} zScale={bigScale} />
      <Txt x={313} y={638} size={27} anchor="middle">Component 1</Txt>
      <Txt x={17} y={328} size={28} anchor="middle" rotate={-90}>Component 2</Txt>

      {/* panel B */}
      <Txt x={845} y={28} size={26}>State</Txt>
      {[[926, RED, "1", 957], [983, CYAN, "2", 1013], [1039, GREEN, "3", 1070]].map(([dx, c, label, lx]: any) => (
        <React.Fragment key={label}>
          <div style={{ position: "absolute", left: dx - 3.5, top: 28, width: 7, height: 7, borderRadius: 4, background: c }} />
          <Txt x={lx} y={27} size={26} anchor="middle">{label}</Txt>
        </React.Fragment>
      ))}
      <TrajectoryPanel x={695} y={85} w={539} h={507} xDomain={[-5.06, 5.17]} yDomain={[-4.43, 5.89]} layers={stateLayers} zScale={bigScale} />
      <Txt x={954} y={636} size={27} anchor="middle">Component 1</Txt>
      <Txt x={652} y={311} size={28} anchor="middle" rotate={-90}>Component 2</Txt>
      <Txt x={954} y={209} size={28} anchor="middle" rotate={41}>Cell fate 1</Txt>
      <Txt x={1078} y={280} size={28} anchor="middle" rotate={-21}>Cell fate 2</Txt>
      <Txt x={871} y={420} size={28} anchor="middle" rotate={-44}>Pre{"\u2212"}branch</Txt>
      <svg width={1869} height={2481} style={{ position: "absolute", left: 0, top: 0, pointerEvents: "none" }}>
        <defs>
          <marker id="stealth" markerWidth="12" markerHeight="10" refX="10" refY="5" orient="auto" markerUnits="userSpaceOnUse">
            <path d="M0,0 L12,5 L0,10 L3,5 z" fill="#000" />
          </marker>
        </defs>
        {arrows.map(([x1, y1, x2, y2], i) => (
          <line key={i} x1={x1} y1={y1} x2={x2} y2={y2} stroke="#000" strokeWidth={2} markerEnd="url(#stealth)" />
        ))}
      </svg>

      {/* panel C */}
      <Txt x={1319} y={65} size={26}>TIM3</Txt>
      {cLegend.map(([label, lx, ly, size, color, dx, dy]: any) => (
        <React.Fragment key={label}>
          <div style={{ position: "absolute", left: dx - 8, top: dy - 8, width: 16, height: 16, borderRadius: 8, background: color }} />
          <Txt x={lx} y={ly} size={size}>{label}</Txt>
        </React.Fragment>
      ))}
      <TrajectoryPanel x={1298} y={107} w={559} h={495} xDomain={[-5.05, 5.2]} yDomain={[-4.45, 5.97]} layers={annotationLayers} zScale={bigScale} xMargin={6} />
      <Txt x={1571} y={639} size={27} anchor="middle">Component 1</Txt>
      <Txt x={1260} y={317} size={28} anchor="middle" rotate={-90}>Component 2</Txt>

      {/* panel D */}
      {facetTitles.map(([label, x, y]: any) => (
        <Txt key={label} x={x} y={y} size={27}>{label}</Txt>
      ))}
      {[
        { x: 76, layers: facetLayer(RED), showY: true },
        { x: 289, layers: facetLayer(CYAN) },
        { x: 501, layers: facetLayer(GREEN), showX: true },
        { x: 713, layers: [{ data: toDots(cd101PosCells.slice(0, 5), 30).concat(toDots(cd101PosCells.slice(5), 3)), color: NAVY }], showX: true },
      ].map((p) => (
        <TrajectoryPanel key={p.x} x={p.x} y={704} w={199} h={243} xDomain={[-5.05, 5.07]} yDomain={[-4.4, 5.86]} layers={p.layers} zScale={smallScale} tickSize={21.5} xMargin={9} showX={!!p.showX} showY={!!p.showY} graphWidth={6.5} nodeR={13.5} nodeFont={24} />
      ))}
      {[
        { x: 76, layers: [{ data: toDots(nktCells, 3), color: SALMON }], showY: true },
        { x: 289, layers: [{ data: toDots(helperCells, 3), color: SLATE }] },
      ].map((p) => (
        <TrajectoryPanel key={p.x} x={p.x} y={999} w={199} h={242} xDomain={[-5.05, 5.07]} yDomain={[-4.41, 5.89]} layers={p.layers} zScale={smallScale} tickSize={21.5} xMargin={11} showX showY={!!p.showY} graphWidth={6.5} nodeR={13.5} nodeFont={24} />
      ))}
      <Txt x={17} y={961} size={28} anchor="middle" rotate={-90}>Component 2</Txt>
      <Txt x={505} y={1286} size={27} anchor="middle">Component 1</Txt>

      {/* panel E */}
      <StackedProportions />
      <Txt x={1284} y={1237} size={30} anchor="middle" color="#333">{samples[0]}</Txt>
      <Txt x={1501} y={1233} size={30} anchor="middle" color="#333">{samples[1]}</Txt>
      <Txt x={1525} y={789} size={26}>TIM3</Txt>
      {proportionLegend.map(([label, fill], i) => (
        <React.Fragment key={label}>
          <Box x={1525} y={818 + i * 46} w={39} h={42} fill={fill} />
          <Txt x={1564} y={840 + i * 46} size={24.3}>{label}</Txt>
        </React.Fragment>
      ))}

      {/* panel F */}
      <Box x={55} y={1339} w={697} h={600} fill="#FF80FF" />
      <Box x={55} y={1950} w={697} h={213} fill="#80B5FF" />
      <Box x={55} y={2176} w={691} h={207} fill="#FF8F87" />
      {termBlocks.flat().map(([label, x, y]: any, i) => (
        <Txt key={i} x={x} y={y} size={27} anchor="end">{label}</Txt>
      ))}
      <Dendrogram />
      <Box x={842} y={1335} w={18} h={603} fill="#FF80FF" />
      <Box x={842} y={1950} w={18} h={211} fill="#80B5FF" />
      <Box x={842} y={2174} w={18} h={206} fill="#FF8F87" />
      <Txt x={848} y={2427} size={25} weight={700} anchor="middle" rotate={90}>Cluster</Txt>

      <AnnotationBar data={annotationLeft} keys={["fate", "pre"]} colors={["#F4566B", "#9A9A9A"]} x={869} w={388} />
      <AnnotationBar data={annotationRight} keys={["pre", "fate"]} colors={["#9A9A9A", "#7A90C8"]} x={1269} w={381} />
      {heatBlocks.map((b) => (
        <React.Fragment key={b.id}>
          <HeatBlock id={`${b.id}l`} rows={b.rows} from={0} to={10} x={869} y={b.y} w={388} h={b.h} />
          <HeatBlock id={`${b.id}r`} rows={b.rows} from={10} to={20} x={1269} y={b.y} w={381} h={b.h} />
        </React.Fragment>
      ))}

      <Txt x={1652} y={1310} size={26} weight={700}>Cell Type</Txt>
      <div
        style={{
          position: "absolute",
          left: 1665,
          top: 1335,
          width: 31,
          height: 496,
          background: `linear-gradient(180deg,${colorStops
            .slice()
            .reverse()
            .map(([v, c]) => `${c} ${((3 - v) / 6) * 100}%`)
            .join(",")})`,
        }}
      />
      {legendScale.map((v) => (
        <Txt key={v} x={1712} y={1582 - v * 80} size={22} anchor="middle">{formatMinus(v, 0)}</Txt>
      ))}
      <Txt x={1730} y={1341} size={23} weight={700}>Cell Type</Txt>
      {[["Pre\u2212branch", "#9A9A9A"], ["Cell fate 1", "#F4566B"], ["Cell fate 2", "#7A90C8"]].map(([label, fill], i) => (
        <React.Fragment key={label}>
          <Box x={1723} y={1360 + i * 39} w={29} h={39} fill={fill} />
          <Txt x={1757} y={1379 + i * 39} size={20}>{label}</Txt>
        </React.Fragment>
      ))}
      <Txt x={1730} y={1513} size={23} weight={700}>Cluster</Txt>
      {[["1", "#FF80FF"], ["2", "#FF8F87"], ["3", "#80B5FF"]].map(([label, fill], i) => (
        <React.Fragment key={label}>
          <Box x={1724} y={1530 + i * 30} w={28} h={30} fill={fill} />
          <Txt x={1770} y={1544 + i * 30} size={22} anchor="middle">{label}</Txt>
        </React.Fragment>
      ))}
    </div>
  );
}
